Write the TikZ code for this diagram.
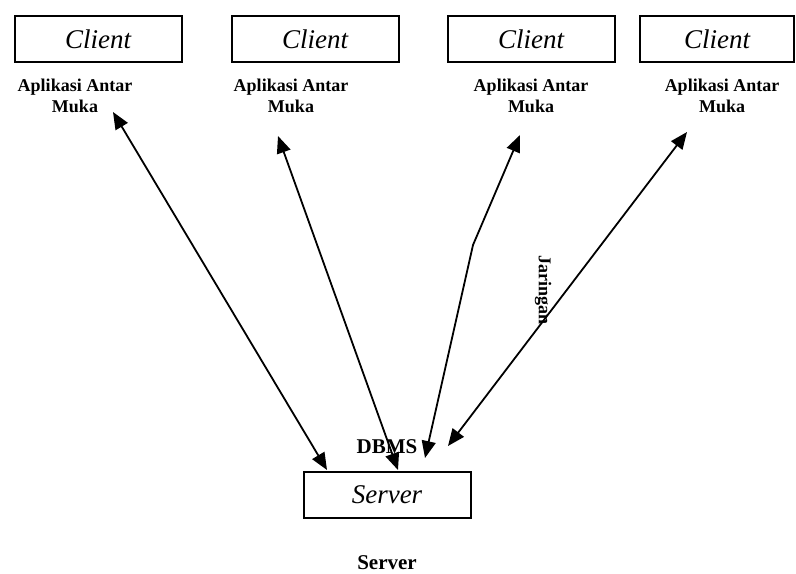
\documentclass[tikz,border=0pt]{standalone}
\usepackage{fontspec}
\setmainfont{Liberation Serif}
\usetikzlibrary{arrows.meta}

\begin{document}
\begin{tikzpicture}[x=0.5pt, y=-0.5pt,
    box/.style={draw, line width=1pt, minimum width=83.5pt, minimum height=23pt, inner sep=0pt, font=\fontsize{13.5}{15}\selectfont\itshape},
    lbl/.style={align=center, font=\fontsize{9}{10.5}\selectfont\bfseries},
    big/.style={font=\fontsize{10.5}{12}\selectfont\bfseries},
    link/.style={{Triangle[length=8.5pt,width=7pt]}-{Triangle[length=8.5pt,width=7pt]}, line width=0.9pt}]
\useasboundingbox (0,0) rectangle (796,573);
            % clients
            \node[box] (c1) at (98,39) {Client};
            \node[box] (c2) at (315,39) {Client};
            \node[box] (c3) at (531,39) {Client};
            \node[box, minimum width=77pt] (c4) at (717,39) {Client};
            \node[lbl] (a1) at (75,96) {Aplikasi Antar\\Muka};
            \node[lbl] (a2) at (291,96) {Aplikasi Antar\\Muka};
            \node[lbl] (a3) at (531,96) {Aplikasi Antar\\Muka};
            \node[lbl] (a4) at (722,96) {Aplikasi Antar\\Muka};
            % server
            \node[box] (srv) at (387,495) {Server};
            \node[big] (dbms) at (387,447) {DBMS};
            \node[big] (srvlbl) at (387,563) {Server};
            \node[lbl, rotate=-90] (net) at (543,290) {Jaringan};
            % links
            \coordinate (t1) at (113,112); \coordinate (b1) at (327,470);
            \coordinate (t2) at (278,136); \coordinate (b2) at (398,470);
            \coordinate (t3) at (520,135); \coordinate (k3) at (473,245); \coordinate (b3) at (425,458);
            \coordinate (t4) at (687,132); \coordinate (b4) at (448,446);
            \draw[link] (t1) -- (b1);
            \draw[link] (t2) -- (b2);
            \draw[link] (t3) -- (k3) -- (b3);
            \draw[link] (t4) -- (b4);
\end{tikzpicture}
\end{document}
